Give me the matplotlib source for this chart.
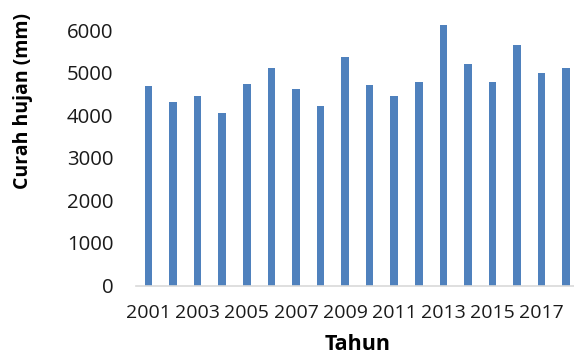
import numpy as np
from matplotlib import pyplot as plt

# curah hujan tahunan
tahun = [str(t) for t in range(2001, 2019)]
curah_hujan = [4682, 4313, 4447, 4054, 4736, 5112, 4611, 4211, 5377,
               4705, 4454, 4783, 6115, 5213, 4776, 5652, 5001, 5105]
yticks = [0, 1000, 2000, 3000, 4000, 5000, 6000]

plt.rcParams['font.family'] = ['Open Sans', 'DejaVu Sans']

fig = plt.figure(figsize=(5.74, 3.56), dpi=100)
ax = fig.add_axes([0.2373, 0.198, 0.7706, 0.8008])

posisi = np.arange(len(tahun))
ax.bar(posisi, curah_hujan, width=0.31, color='#4f81bd', zorder=2)

ax.set_xlim(-0.5, len(tahun) - 0.5)
ax.set_ylim(0, 6700)
ax.set_yticks(yticks)
ax.set_yticklabels([str(v) for v in yticks], fontsize=14.7, color='#1a1a1a')
ax.set_xticks(posisi[::2])
ax.set_xticklabels(tahun[::2], fontsize=14, color='#1a1a1a')
ax.tick_params(axis='y', length=0, pad=16.5)
ax.tick_params(axis='x', length=0, pad=13)

for s in ['top', 'right', 'left']:
    ax.spines[s].set_visible(False)
ax.spines['bottom'].set_color('#d9d9d9')
ax.spines['bottom'].set_linewidth(1.2)
ax.spines['bottom'].set_zorder(3)

ax.set_xlabel('Tahun', fontsize=15.5, fontweight='bold', labelpad=9)
fig.text(23 / 574, 1 - 101 / 356, 'Curah hujan (mm)', rotation=90,
         fontsize=14, fontweight='bold', ha='center', va='center')

fig.savefig('out.png', dpi=100)
